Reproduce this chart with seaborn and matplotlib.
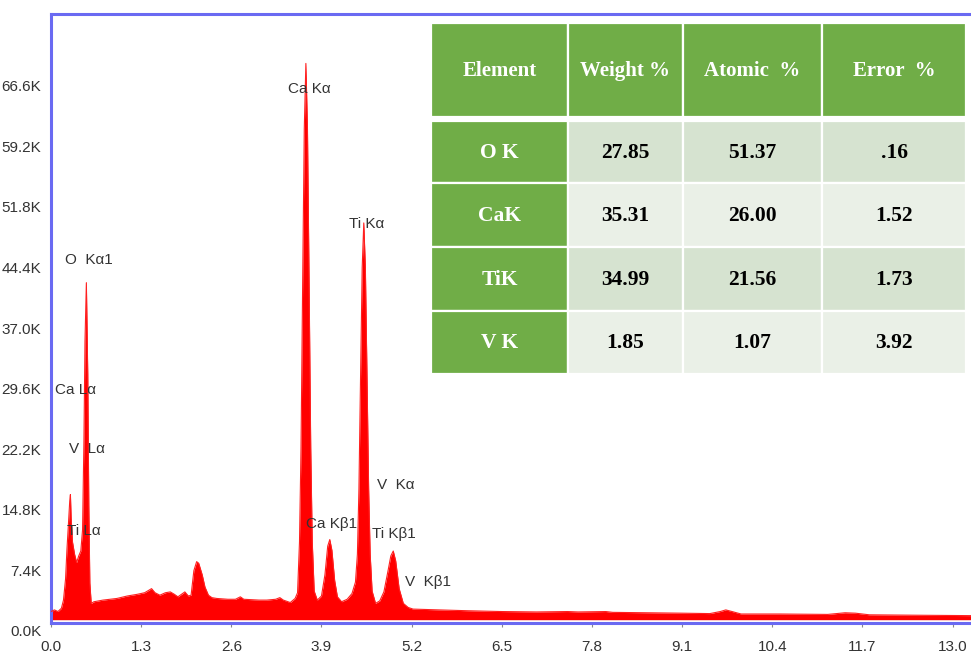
import matplotlib
matplotlib.use("Agg")
import matplotlib.pyplot as plt
import matplotlib.transforms as mtransforms
import seaborn as sns
import pandas as pd
from matplotlib.patches import Rectangle

# EDS spectrum, energy in keV and counts in thousands
energy_kev = [
    0.00, 0.05, 0.10, 0.15, 0.18, 0.21, 0.23, 0.25, 0.27, 0.28, 0.29, 0.31,
    0.34, 0.37, 0.40, 0.43, 0.455, 0.475, 0.49, 0.51, 0.53, 0.545, 0.56, 0.58,
    0.62, 0.75, 0.95, 1.10, 1.24, 1.35, 1.45, 1.50, 1.57, 1.65, 1.72, 1.78,
    1.83, 1.88, 1.93, 1.98, 2.02, 2.06, 2.10, 2.13, 2.18, 2.22, 2.27, 2.32,
    2.39, 2.55, 2.66, 2.73, 2.78, 3.00, 3.11, 3.24, 3.30, 3.35, 3.45, 3.52,
    3.555, 3.583, 3.605, 3.629, 3.652, 3.675, 3.698, 3.721, 3.745, 3.767,
    3.795, 3.84, 3.90, 3.95, 3.99, 4.02, 4.05, 4.09, 4.13, 4.19, 4.27, 4.34,
    4.39, 4.418, 4.44, 4.464, 4.487, 4.51, 4.533, 4.556, 4.58, 4.602, 4.63,
    4.68, 4.74, 4.80, 4.86, 4.90, 4.935, 4.97, 5.02, 5.08, 5.15, 5.22, 5.60,
    6.00, 6.50, 7.00, 7.45, 7.60, 8.00, 8.10, 8.60, 9.10, 9.50, 9.65, 9.73,
    9.82, 9.95, 10.50, 11.20, 11.45, 11.60, 11.80, 12.50, 13.28,
]
counts_k = [
    1.0, 1.2, 1.0, 1.4, 2.4, 5.0, 8.6, 11.5, 14.5, 15.3, 12.5, 9.5,
    8.0, 7.0, 7.8, 8.4, 11.0, 22.0, 34.0, 41.2, 30.0, 14.0, 4.5, 2.0,
    2.2, 2.4, 2.6, 2.9, 3.1, 3.3, 3.8, 3.3, 3.0, 3.3, 3.4, 3.1,
    2.8, 3.1, 3.4, 2.9, 3.0, 6.0, 7.1, 6.9, 5.5, 4.0, 3.0, 2.7,
    2.6, 2.5, 2.5, 2.8, 2.5, 2.4, 2.4, 2.5, 2.7, 2.4, 2.1, 2.6,
    3.3, 9.5, 21.0, 41.5, 60.0, 68.0, 60.0, 41.5, 21.0, 9.5,
    3.5, 2.4, 2.9, 5.5, 9.0, 9.8, 8.5, 4.8, 2.8, 2.2, 2.5, 3.2,
    4.6, 8.0, 16.0, 30.0, 43.0, 48.5, 43.0, 30.0, 16.0, 8.0, 3.5,
    2.0, 2.3, 3.4, 6.0, 7.8, 8.4, 7.2, 3.8, 2.0, 1.5, 1.3, 1.2,
    1.1, 1.0, 0.95, 1.0, 0.95, 1.0, 0.9, 0.85, 0.8, 0.75, 1.0, 1.2,
    1.0, 0.7, 0.7, 0.65, 0.85, 0.8, 0.6, 0.55, 0.5,
]

# Line identifications
peak_names = ["O  Kα1", "Ca Lα", "V  Lα", "Ti Lα", "Ca Kα", "Ti Kα",
              "Ca Kβ1", "V  Kα", "Ti Kβ1", "V  Kβ1"]
peak_label_kev = [0.54, 0.36, 0.52, 0.48, 3.73, 4.55, 4.04, 4.97, 4.95, 5.44]
peak_label_k = [44.0, 28.1, 20.9, 10.8, 64.9, 48.4, 11.7, 16.5, 10.5, 4.6]

x_ticks = [0.0, 1.3, 2.6, 3.9, 5.2, 6.5, 7.8, 9.1, 10.4, 11.7, 13.0]
y_ticks = [0.0, 7.4, 14.8, 22.2, 29.6, 37.0, 44.4, 51.8, 59.2, 66.6]

# Quantification table
table_header = ["Element", "Weight %", "Atomic  %", "Error  %"]
elements = ["O K", "CaK", "TiK", "V K"]
weight_pct = ["27.85", "35.31", "34.99", "1.85"]
atomic_pct = ["51.37", "26.00", "21.56", "1.07"]
error_pct = [".16", "1.52", "1.73", "3.92"]

sns.set_theme(style="white")
plt.rcParams["font.family"] = ["Liberation Sans", "DejaVu Sans"]

W, H = 971, 659
fig = plt.figure(figsize=(W / 100, H / 100), dpi=100)
fig.patch.set_facecolor("white")


def px_box(x0, y0, x1, y1):
    return [x0 / W, 1 - y1 / H, (x1 - x0) / W, (y1 - y0) / H]


ax = fig.add_axes(px_box(51, 13.5, 972, 623))
spec = pd.DataFrame({"energy": energy_kev, "counts": counts_k})
ax.fill_between(spec["energy"], 0, spec["counts"], color="#ff0000", lw=0, zorder=2)
sns.lineplot(data=spec, x="energy", y="counts", ax=ax, color="#ff2020",
             lw=0.8, zorder=3)

ax.set_xlim(0, 13.28)
ax.set_ylim(-0.4, 74.1)
ax.set_xticks(x_ticks)
ax.set_xticklabels([f"{v:.1f}" for v in x_ticks])
ax.set_yticks(y_ticks)
ax.set_yticklabels([f"{v:.1f}K" for v in y_ticks])
ax.tick_params(axis="x", which="both", bottom=True, length=3, width=0.8,
               color="#888888", labelsize=11, labelcolor="#333333", pad=9)
ax.tick_params(axis="y", left=False, labelsize=11, labelcolor="#333333", pad=1)
# y labels sit just below their count level
shift_down = mtransforms.ScaledTranslation(0, -11 / 100, fig.dpi_scale_trans)
for lab in ax.get_yticklabels():
    lab.set_transform(lab.get_transform() + shift_down)
ax.set_xlabel("")
ax.set_ylabel("")
ax.grid(False)
for side in ["left", "top", "bottom"]:
    ax.spines[side].set_color("#6a6af2")
    ax.spines[side].set_linewidth(2.2)
ax.spines["right"].set_visible(False)

for name, xk, yk in zip(peak_names, peak_label_kev, peak_label_k):
    ax.text(xk, yk, name, ha="center", va="center", fontsize=11,
            color="#333333", zorder=4)

# Table drawn in pixel coordinates on its own axes
tax = fig.add_axes([0, 0, 1, 1])
tax.set_xlim(0, W)
tax.set_ylim(H, 0)
tax.axis("off")
tax.patch.set_alpha(0)

col_edges = [431, 568, 683, 822, 966]
header_rows = (23, 117)
row_edges = [121, 183, 247, 311, 374]
green = "#70ad47"
band_dark = "#d6e3d0"
band_light = "#eaf0e7"

for c in range(4):
    x0, x1 = col_edges[c], col_edges[c + 1]
    tax.add_patch(Rectangle((x0, header_rows[0]), x1 - x0,
                            header_rows[1] - header_rows[0], facecolor=green,
                            edgecolor="white", lw=1.6))
    tax.text((x0 + x1) / 2, (header_rows[0] + header_rows[1]) / 2 + 1,
             table_header[c], ha="center", va="center", color="white",
             fontsize=15, fontweight="bold", family="Liberation Serif")

columns = [elements, weight_pct, atomic_pct, error_pct]
for r in range(4):
    y0, y1 = row_edges[r], row_edges[r + 1]
    for c in range(4):
        x0, x1 = col_edges[c], col_edges[c + 1]
        if c == 0:
            fc, tc = green, "white"
        else:
            fc, tc = (band_dark if r % 2 == 0 else band_light), "black"
        tax.add_patch(Rectangle((x0, y0), x1 - x0, y1 - y0, facecolor=fc,
                                edgecolor="white", lw=1.6))
        tax.text((x0 + x1) / 2, (y0 + y1) / 2 + 1, columns[c][r],
                 ha="center", va="center", color=tc, fontsize=15.5,
                 fontweight="bold", family="Liberation Serif")

fig.savefig("out.png", dpi=100, facecolor="white")
